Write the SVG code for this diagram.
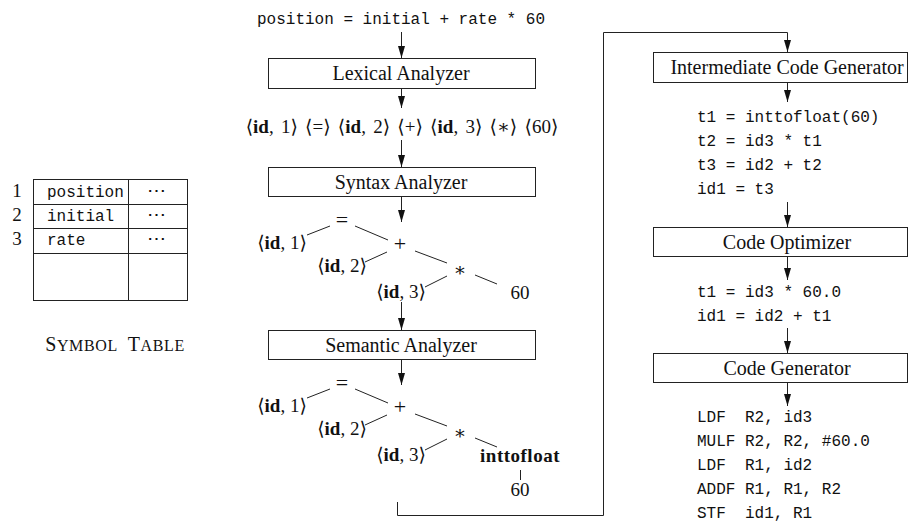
<svg xmlns="http://www.w3.org/2000/svg" width="910" height="524" viewBox="0 0 910 524">
<style>
.box{fill:#fff;stroke:#222;stroke-width:1}
.lbl{font-family:"Liberation Serif","DejaVu Serif",serif;font-size:20px;fill:#111;text-anchor:middle}
.rm{font-family:"Liberation Serif","DejaVu Serif",serif;font-size:19px;fill:#111}
.tt{font-family:"Liberation Mono","DejaVu Sans Mono",monospace;font-size:16px;fill:#111}
.b{font-weight:bold}
.op{font-size:22px}
.ln{stroke:#222;stroke-width:1;fill:none}
.ar{stroke:#222;stroke-width:1;fill:none;marker-end:url(#ah)}
.mid{text-anchor:middle}
</style>
<defs>
<marker id="ah" markerUnits="userSpaceOnUse" markerWidth="12" markerHeight="7" viewBox="0 0 12 7" refX="12" refY="3.5" orient="auto">
<path d="M0,0 L12,3.5 L0,7 z" fill="#111"/>
</marker>
</defs>

<g id="symbol-table">
<rect class="box" x="33.5" y="179.5" width="154" height="121"/>
<line class="ln" x1="128.5" y1="179.5" x2="128.5" y2="300.5"/>
<line class="ln" x1="33.5" y1="204.5" x2="187.5" y2="204.5"/>
<line class="ln" x1="33.5" y1="228.5" x2="187.5" y2="228.5"/>
<line class="ln" x1="33.5" y1="253.5" x2="187.5" y2="253.5"/>
<text class="rm mid" x="17" y="197">1</text>
<text class="rm mid" x="17" y="221">2</text>
<text class="rm mid" x="17" y="245">3</text>
<text class="tt" x="47" y="197">position</text>
<text class="tt" x="47" y="221">initial</text>
<text class="tt" x="47" y="245">rate</text>
<text class="rm mid" x="156" y="197">⋯</text>
<text class="rm mid" x="156" y="221">⋯</text>
<text class="rm mid" x="156" y="245">⋯</text>
<text class="rm mid" x="115" y="351" letter-spacing="0.6"><tspan font-size="20">S</tspan><tspan font-size="16">YMBOL</tspan><tspan font-size="20" dx="10">T</tspan><tspan font-size="16">ABLE</tspan></text>
</g>

<g id="source">
<text class="tt mid" x="401" y="24">position = initial + rate * 60</text>
</g>

<g id="lexical-analyzer">
<rect class="box" x="268.5" y="58.5" width="267" height="30"/>
<text class="lbl" x="401" y="80">Lexical Analyzer</text>
</g>

<g id="tokens">
<text class="rm mid" x="402" y="133" font-size="20" word-spacing="2.5">⟨<tspan class="b">id</tspan>, 1⟩ ⟨=⟩ ⟨<tspan class="b">id</tspan>, 2⟩ ⟨+⟩ ⟨<tspan class="b">id</tspan>, 3⟩ ⟨∗⟩ ⟨60⟩</text>
</g>

<g id="syntax-analyzer">
<rect class="box" x="268.5" y="167.5" width="267" height="29"/>
<text class="lbl" x="401" y="189">Syntax Analyzer</text>
</g>

<g id="syntax-tree" transform="translate(0,220)">
<text class="rm mid op" x="342" y="7">=</text>
<text class="rm mid" x="282" y="29">⟨<tspan class="b">id</tspan>, 1⟩</text>
<text class="rm mid op" x="400" y="31">+</text>
<text class="rm mid" x="342" y="52">⟨<tspan class="b">id</tspan>, 2⟩</text>
<text class="rm mid" x="460" y="56" font-size="20">∗</text>
<text class="rm mid" x="401" y="78">⟨<tspan class="b">id</tspan>, 3⟩</text>
<text class="rm mid" x="520" y="79">60</text>
</g>

<g id="semantic-analyzer">
<rect class="box" x="268.5" y="330.5" width="267" height="29"/>
<text class="lbl" x="401" y="352">Semantic Analyzer</text>
</g>

<g id="semantic-tree" transform="translate(0,383)">
<text class="rm mid op" x="342" y="7">=</text>
<text class="rm mid" x="282" y="29">⟨<tspan class="b">id</tspan>, 1⟩</text>
<text class="rm mid op" x="400" y="31">+</text>
<text class="rm mid" x="342" y="52">⟨<tspan class="b">id</tspan>, 2⟩</text>
<text class="rm mid" x="460" y="56" font-size="20">∗</text>
<text class="rm mid" x="401" y="78">⟨<tspan class="b">id</tspan>, 3⟩</text>
<text class="rm mid b" x="520" y="79" font-size="20" letter-spacing="0.5">inttofloat</text>
<text class="rm mid" x="520" y="113">60</text>
</g>

<g id="intermediate-code-generator">
<rect class="box" x="653.5" y="52.5" width="254" height="30"/>
<text class="lbl" x="787" y="74">Intermediate Code Generator</text>
</g>

<g id="intermediate-code">
<text class="tt" x="697" y="122">t1 = inttofloat(60)</text>
<text class="tt" x="697" y="146">t2 = id3 * t1</text>
<text class="tt" x="697" y="170">t3 = id2 + t2</text>
<text class="tt" x="697" y="194">id1 = t3</text>
</g>

<g id="code-optimizer">
<rect class="box" x="653.5" y="227.5" width="254" height="29"/>
<text class="lbl" x="787" y="249">Code Optimizer</text>
</g>

<g id="optimized-code">
<text class="tt" x="697" y="297">t1 = id3 * 60.0</text>
<text class="tt" x="697" y="321">id1 = id2 + t1</text>
</g>

<g id="code-generator">
<rect class="box" x="653.5" y="353.5" width="254" height="29"/>
<text class="lbl" x="787" y="375">Code Generator</text>
</g>

<g id="target-code">
<text class="tt" x="697" y="422" xml:space="preserve">LDF  R2, id3</text>
<text class="tt" x="697" y="446">MULF R2, R2, #60.0</text>
<text class="tt" x="697" y="470" xml:space="preserve">LDF  R1, id2</text>
<text class="tt" x="697" y="494">ADDF R1, R1, R2</text>
<text class="tt" x="697" y="518" xml:space="preserve">STF  id1, R1</text>
</g>

<g id="connectors">
<line class="ar" x1="401.5" y1="32" x2="401.5" y2="58"/>
<line class="ar" x1="401.5" y1="89" x2="401.5" y2="108"/>
<line class="ar" x1="401.5" y1="140" x2="401.5" y2="167"/>
<line class="ar" x1="401.5" y1="197" x2="401.5" y2="222"/>
<line class="ar" x1="401.5" y1="302" x2="401.5" y2="330"/>
<line class="ar" x1="401.5" y1="360" x2="401.5" y2="385"/>
<path class="ar" d="M397.5,502 V515.5 H603.5 V32.5 H787.5 V52"/>
<line class="ar" x1="787.5" y1="83" x2="787.5" y2="102"/>
<line class="ar" x1="787.5" y1="202" x2="787.5" y2="227"/>
<line class="ar" x1="787.5" y1="257" x2="787.5" y2="280"/>
<line class="ar" x1="787.5" y1="328" x2="787.5" y2="353"/>
<line class="ar" x1="787.5" y1="383" x2="787.5" y2="406"/>
<g transform="translate(0,220)">
<path class="ln" d="M307,15 L330,6 M355,6 L388,20 M365,42 L387,32 M415,31 L447,43 M425,67 L447,56 M475,55 L497,64"/>
</g>
<g transform="translate(0,383)">
<path class="ln" d="M307,15 L330,6 M355,6 L388,20 M365,42 L387,32 M415,31 L447,43 M425,67 L447,56 M475,55 L497,64 M520.5,87 V97"/>
</g>
</g>
</svg>
